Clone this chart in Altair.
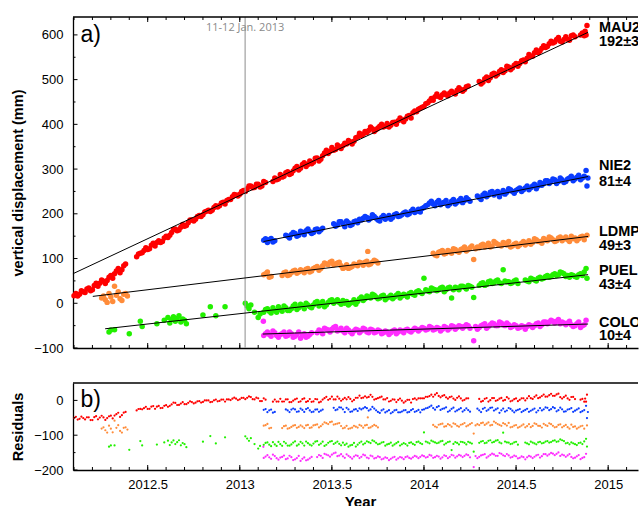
import altair as alt
import pandas as pd

# ---------------- data ----------------
stations = ["MAU2", "NIE2", "LDMP", "PUEL", "COLO"]
rates = ["192±3", "81±4", "49±3", "43±4", "10±4"]
colors = ["#ff0000", "#0a3cff", "#ff8c3a", "#22f000", "#ff2cff"]

# --- daily solutions, first half of the epochs ---
mau2_t = [2012.10, 2012.12, 2012.14, 2012.16, 2012.18, 2012.20, 2012.22, 2012.24, 2012.26, 2012.28,
          2012.30, 2012.32, 2012.34, 2012.36, 2012.38,
          2012.44, 2012.46, 2012.48, 2012.50, 2012.52, 2012.54, 2012.56, 2012.58, 2012.60, 2012.62,
          2012.64, 2012.66, 2012.68, 2012.70, 2012.72, 2012.74, 2012.76, 2012.78, 2012.80, 2012.82,
          2012.84, 2012.86, 2012.88, 2012.90, 2012.92, 2012.94, 2012.96, 2012.98, 2013.00, 2013.02,
          2013.04, 2013.06, 2013.08, 2013.10, 2013.12, 2013.14,
          2013.18, 2013.20, 2013.22, 2013.24, 2013.26, 2013.28, 2013.30, 2013.32, 2013.34, 2013.36,
          2013.38, 2013.40, 2013.42, 2013.44, 2013.46, 2013.48, 2013.50, 2013.52, 2013.54, 2013.56,
          2013.58, 2013.60, 2013.62, 2013.64, 2013.66, 2013.68, 2013.70, 2013.72, 2013.74, 2013.76,
          2013.78, 2013.80, 2013.82, 2013.84, 2013.86, 2013.88, 2013.90, 2013.92, 2013.94, 2013.96,
          2013.98, 2014.00, 2014.02, 2014.04, 2014.06, 2014.08, 2014.10, 2014.12, 2014.14, 2014.16,
          2014.18, 2014.20, 2014.22, 2014.24,
          2014.30, 2014.32, 2014.34, 2014.36, 2014.38, 2014.40, 2014.42, 2014.44, 2014.46, 2014.48,
          2014.50, 2014.52, 2014.54, 2014.56, 2014.58, 2014.60, 2014.62, 2014.64, 2014.66, 2014.68,
          2014.70, 2014.72, 2014.74, 2014.76, 2014.78, 2014.80, 2014.82,
          2014.86, 2014.87, 2014.88, 2014.885]
mau2_v = [17, 16, 28, 24, 34, 30, 45, 45, 49, 51,
          62, 66, 78, 75, 88,
          104, 112, 118, 120, 130, 128, 140, 138, 150, 152,
          165, 162, 170, 172, 180, 186, 188, 196, 198, 206,
          205, 214, 215, 224, 222, 232, 238, 242, 244, 252,
          256, 262, 259, 266, 262, 270,
          272, 276, 288, 284, 294, 290, 302, 298, 310, 306,
          318, 315, 325, 322, 336, 335, 348, 344, 350, 352,
          356, 361, 362, 372, 375, 384, 386, 390, 388, 396,
          394, 402, 398, 405, 408, 410, 412, 420, 426, 428,
          436, 440, 448, 458, 462, 462, 466, 466, 470, 470,
          476, 478, 478, 486,
          496, 494, 506, 504, 514, 512, 522, 520, 528, 526,
          536, 536, 544, 548, 552, 560, 560, 570, 572, 580,
          582, 590, 586, 590, 590, 598, 596,
          604, 598, 600, 621]

nie2_t = [2013.13, 2013.15, 2013.17, 2013.19,
          2013.25, 2013.27, 2013.29, 2013.31, 2013.33, 2013.35, 2013.37, 2013.39, 2013.41, 2013.43, 2013.45,
          2013.51, 2013.53, 2013.55, 2013.57, 2013.59, 2013.61, 2013.63, 2013.65, 2013.67, 2013.69,
          2013.71, 2013.73, 2013.75, 2013.77, 2013.79, 2013.81, 2013.83, 2013.85, 2013.87, 2013.89,
          2013.91, 2013.93, 2013.95, 2013.97, 2013.99, 2014.01, 2014.03, 2014.05, 2014.07, 2014.09,
          2014.11, 2014.13, 2014.15, 2014.17, 2014.19, 2014.21, 2014.23, 2014.25,
          2014.29, 2014.31, 2014.33, 2014.35, 2014.37, 2014.39, 2014.41, 2014.43, 2014.45, 2014.47,
          2014.49, 2014.51, 2014.53, 2014.55, 2014.57, 2014.59, 2014.61, 2014.63, 2014.65, 2014.67,
          2014.69, 2014.71, 2014.73, 2014.75, 2014.77, 2014.79, 2014.81, 2014.83, 2014.85, 2014.87,
          2014.88, 2014.885, 2014.89]
nie2_v = [141, 136, 145, 140,
          152, 146, 158, 150, 161, 153, 166, 156, 165, 160, 168,
          178, 175, 182, 171, 180, 176, 184, 188, 190, 192,
          190, 194, 186, 192, 188, 196, 192, 200, 195, 202,
          198, 206, 203, 210, 212, 218, 224, 222, 226, 220,
          226, 218, 228, 222, 230, 225, 236, 228,
          240, 232, 246, 242, 250, 246, 238, 252, 248, 254,
          246, 255, 250, 258, 254, 262, 256, 270, 268, 274,
          272, 276, 272, 276, 272, 280, 274, 282, 276, 284,
          297, 262, 280]

ldmp_t = [2012.25, 2012.27, 2012.29, 2012.31, 2012.33, 2012.35, 2012.37, 2012.39, 2012.32,
          2013.13, 2013.15, 2013.17,
          2013.23, 2013.25, 2013.27, 2013.29, 2013.31, 2013.33, 2013.35, 2013.37, 2013.39, 2013.41,
          2013.43, 2013.45, 2013.47, 2013.49, 2013.51, 2013.53, 2013.55, 2013.57, 2013.59, 2013.61,
          2013.63, 2013.65, 2013.67, 2013.69, 2013.71, 2013.73, 2013.75, 2013.695,
          2014.05, 2014.07, 2014.09, 2014.11, 2014.13, 2014.15, 2014.17, 2014.19, 2014.21, 2014.23,
          2014.25, 2014.27, 2014.29, 2014.31, 2014.33, 2014.35, 2014.37, 2014.39, 2014.41, 2014.43,
          2014.45, 2014.47, 2014.49, 2014.51, 2014.53, 2014.55, 2014.57, 2014.59, 2014.61, 2014.63,
          2014.65, 2014.67, 2014.69, 2014.71, 2014.73, 2014.75, 2014.77, 2014.79, 2014.81, 2014.83,
          2014.85, 2014.87, 2014.28, 2014.885]
ldmp_v = [12, 8, 22, 4, 18, 10, 20, 16, 38,
          64, 70, 60,
          62, 70, 64, 72, 67, 75, 68, 78, 72, 80,
          74, 84, 88, 92, 86, 90, 84, 80, 78, 82,
          86, 92, 85, 94, 88, 96, 90, 116,
          112, 106, 116, 110, 118, 112, 120, 114, 122, 117,
          124, 98, 126, 130, 126, 134, 128, 135, 130, 136,
          130, 126, 132, 127, 134, 130, 140, 136, 142, 138,
          145, 140, 146, 138, 146, 140, 148, 138, 144, 140,
          148, 142, 122, 152]

puel_t = [2012.29, 2012.30, 2012.32, 2012.40, 2012.46, 2012.47, 2012.55, 2012.59, 2012.61, 2012.62,
          2012.63, 2012.64, 2012.65, 2012.66, 2012.67, 2012.68, 2012.69, 2012.70, 2012.71, 2012.80,
          2012.84, 2012.87, 2012.92, 2013.03, 2013.04, 2013.05, 2013.06, 2013.08, 2013.10, 2013.11,
          2013.13, 2013.15, 2013.17, 2013.19, 2013.21, 2013.23, 2013.25, 2013.27, 2013.29, 2013.31,
          2013.33, 2013.35, 2013.37, 2013.39, 2013.41, 2013.43, 2013.45, 2013.47, 2013.49, 2013.51,
          2013.53, 2013.55, 2013.57, 2013.59, 2013.61, 2013.63, 2013.65, 2013.67, 2013.69, 2013.71,
          2013.73, 2013.75, 2013.77, 2013.79, 2013.81, 2013.83, 2013.85, 2013.87, 2013.89, 2013.91,
          2013.93, 2013.95, 2013.97, 2013.99, 2014.01, 2014.03, 2014.05, 2014.07, 2014.09, 2014.11,
          2014.13, 2014.15, 2014.17, 2014.19, 2014.21, 2014.23, 2014.25, 2014.27, 2014.00, 2014.16,
          2014.31, 2014.33, 2014.35, 2014.37, 2014.39, 2014.41, 2014.43, 2014.45, 2014.47, 2014.49,
          2014.51, 2014.44,
          2014.55, 2014.57, 2014.59, 2014.61, 2014.63, 2014.65, 2014.67, 2014.69, 2014.71, 2014.73,
          2014.75, 2014.77, 2014.79, 2014.81, 2014.83, 2014.85, 2014.87, 2014.885, 2014.88]
puel_v = [-64, -60, -59, -68, -40, -52, -46, -38, -32, -44,
          -36, -30, -40, -34, -28, -42, -35, -38, -46, -26,
          -8, -28, -8, 0, -6, -12, -4, -20, -32, -24,
          -20, -12, -22, -16, -8, -18, -10, -16, -6, -14,
          -2, -12, -4, -10, 2, -6, 4, -4, 6, 0,
          8, -2, 0, -4, 2, -2, 10, 6, 16, 12,
          18, 10, 16, 8, 14, 10, 18, 12, 20, 14,
          24, 18, 28, 22, 30, 26, 32, 28, 34, 26,
          34, 12, 36, 30, 38, 32, 38, 13, 56, 30,
          44, 40, 48, 44, 50, 46, 75, 48, 44, 50,
          44, 50,
          52, 48, 54, 50, 58, 56, 62, 60, 66, 64,
          68, 60, 58, 62, 58, 66, 70, 56, 78]

colo_t = [2013.13, 2013.15, 2013.17, 2013.19, 2013.21, 2013.23, 2013.25, 2013.27, 2013.29, 2013.31,
          2013.33, 2013.35, 2013.37, 2013.39, 2013.128,
          2013.43, 2013.45, 2013.47, 2013.49, 2013.51, 2013.53, 2013.55, 2013.57, 2013.59, 2013.61,
          2013.63, 2013.65, 2013.67, 2013.69, 2013.71, 2013.73, 2013.75, 2013.77, 2013.79, 2013.81,
          2013.83, 2013.85, 2013.87, 2013.89, 2013.91, 2013.93, 2013.95, 2013.97, 2013.99, 2014.01,
          2014.03, 2014.05, 2014.07, 2014.09, 2014.11, 2014.13, 2014.15, 2014.17, 2014.19, 2014.21,
          2014.23, 2014.25, 2014.27,
          2014.29, 2014.31, 2014.33, 2014.35, 2014.37, 2014.39, 2014.41, 2014.43, 2014.45, 2014.47,
          2014.49, 2014.51, 2014.53, 2014.55, 2014.57, 2014.59, 2014.61, 2014.63, 2014.65, 2014.67,
          2014.69, 2014.71, 2014.73, 2014.75, 2014.77, 2014.79, 2014.81, 2014.83, 2014.85, 2014.87,
          2014.88]
colo_v = [-72, -64, -74, -66, -76, -68, -74, -64, -76, -70,
          -78, -68, -74, -66, -40,
          -60, -68, -58, -64, -54, -62, -56, -66, -60, -68,
          -58, -66, -56, -64, -58, -66, -60, -68, -62, -70,
          -62, -68, -60, -66, -58, -64, -56, -62, -54, -60,
          -52, -60, -54, -62, -52, -60, -50, -58, -50, -56,
          -48, -56, -84,
          -58, -50, -46, -52, -44, -50, -42, -48, -44, -54,
          -48, -56, -50, -58, -48, -54, -46, -52, -42, -46,
          -38, -44, -36, -42, -48, -40, -52, -46, -54, -48,
          -38]

# --- daily solutions, second half of the epochs ---
mau2_t2 = [2012.11, 2012.13, 2012.15, 2012.17, 2012.19, 2012.21, 2012.23, 2012.25, 2012.27, 2012.29,
           2012.31, 2012.33, 2012.35, 2012.37,
           2012.45, 2012.47, 2012.49, 2012.51, 2012.53, 2012.55, 2012.57, 2012.59, 2012.61, 2012.63,
           2012.65, 2012.67, 2012.69, 2012.71, 2012.73, 2012.75, 2012.77, 2012.79, 2012.81, 2012.83,
           2012.85, 2012.87, 2012.89, 2012.91, 2012.93, 2012.95, 2012.97, 2012.99,
           2013.01, 2013.03, 2013.05, 2013.07, 2013.09, 2013.11, 2013.13,
           2013.19, 2013.21, 2013.23, 2013.25, 2013.27, 2013.29, 2013.31, 2013.33, 2013.35, 2013.37,
           2013.39, 2013.41, 2013.43, 2013.45, 2013.47, 2013.49, 2013.51, 2013.53, 2013.55, 2013.57,
           2013.59, 2013.61, 2013.63, 2013.65, 2013.67, 2013.69, 2013.71, 2013.73, 2013.75, 2013.77,
           2013.79, 2013.81, 2013.83, 2013.85, 2013.87, 2013.89, 2013.91, 2013.93, 2013.95, 2013.97,
           2013.99, 2014.01, 2014.03, 2014.05, 2014.07, 2014.09, 2014.11, 2014.13, 2014.15, 2014.17,
           2014.19, 2014.21, 2014.23,
           2014.31, 2014.33, 2014.35, 2014.37, 2014.39, 2014.41, 2014.43, 2014.45, 2014.47, 2014.49,
           2014.51, 2014.53, 2014.55, 2014.57, 2014.59, 2014.61, 2014.63, 2014.65, 2014.67, 2014.69,
           2014.71, 2014.73, 2014.75, 2014.77, 2014.79, 2014.81,
           2014.85, 2014.875]
mau2_v2 = [22, 20, 26, 32, 28, 40, 38, 52, 44, 58,
           56, 72, 68, 84,
           110, 113, 124, 122, 134, 136, 136, 146, 147, 158,
           166, 164, 176, 174, 186, 184, 194, 194, 204, 208,
           208, 218, 218, 226, 230, 232, 243, 240,
           250, 250, 262, 258, 266, 260, 272,
           280, 278, 282, 292, 288, 296, 306, 302, 314, 310,
           312, 324, 318, 330, 342, 340, 342, 354, 346, 358,
           364, 356, 370, 380, 378, 382, 394, 384, 392, 400,
           396, 394, 404, 400, 414, 406, 418, 414, 430, 434,
           438, 446, 452, 454, 468, 460, 470, 464, 474, 468,
           482, 474, 484,
           490, 502, 498, 512, 508, 518, 516, 530, 522, 532,
           530, 542, 540, 556, 552, 566, 564, 576, 574, 586,
           584, 594, 584, 596, 588, 600,
           600, 608]

nie2_t2 = [2013.14, 2013.16, 2013.18,
           2013.26, 2013.28, 2013.30, 2013.32, 2013.34, 2013.36, 2013.38, 2013.40, 2013.42, 2013.44,
           2013.52, 2013.54, 2013.56, 2013.58, 2013.60, 2013.62, 2013.64, 2013.66, 2013.68, 2013.70,
           2013.72, 2013.74, 2013.76, 2013.78, 2013.80, 2013.82, 2013.84, 2013.86, 2013.88, 2013.90,
           2013.92, 2013.94, 2013.96, 2013.98,
           2014.00, 2014.02, 2014.04, 2014.06, 2014.08, 2014.10, 2014.12, 2014.14, 2014.16, 2014.18,
           2014.20, 2014.22, 2014.24,
           2014.30, 2014.32, 2014.34, 2014.36, 2014.38, 2014.40, 2014.42, 2014.44, 2014.46, 2014.48,
           2014.50, 2014.52, 2014.54, 2014.56, 2014.58, 2014.60, 2014.62, 2014.64, 2014.66, 2014.68,
           2014.70, 2014.72, 2014.74, 2014.76, 2014.78, 2014.80, 2014.82, 2014.84, 2014.86]
nie2_v2 = [144, 142, 137,
           150, 154, 156, 152, 158, 162, 160, 158, 166, 164,
           172, 182, 178, 184, 174, 182, 180, 186, 194, 186,
           198, 190, 184, 196, 192, 188, 198, 194, 198, 204,
           200, 210, 206, 204,
           214, 220, 228, 218, 230, 224, 230, 222, 232, 226,
           234, 230, 232,
           236, 242, 238, 248, 242, 250, 246, 244, 256, 250,
           252, 258, 254, 262, 258, 266, 262, 264, 274, 268,
           278, 268, 280, 270, 278, 284, 278, 286, 280]

ldmp_t2 = [2012.26, 2012.28, 2012.30, 2012.34, 2012.36, 2012.38,
           2013.14, 2013.16,
           2013.24, 2013.26, 2013.28, 2013.30, 2013.32, 2013.34, 2013.36, 2013.38, 2013.40, 2013.42,
           2013.44, 2013.46, 2013.48, 2013.50, 2013.52, 2013.54, 2013.56, 2013.58, 2013.60, 2013.62,
           2013.64, 2013.66, 2013.68, 2013.70, 2013.72, 2013.74,
           2014.06, 2014.08, 2014.10, 2014.12, 2014.14, 2014.16, 2014.18, 2014.20, 2014.22, 2014.24,
           2014.26, 2014.30, 2014.32, 2014.34, 2014.36, 2014.38, 2014.40, 2014.42, 2014.44, 2014.46,
           2014.48, 2014.50, 2014.52, 2014.54, 2014.56, 2014.58, 2014.60, 2014.62, 2014.64, 2014.66,
           2014.68, 2014.70, 2014.72, 2014.74, 2014.76, 2014.78, 2014.80, 2014.82, 2014.84, 2014.86]
ldmp_v2 = [16, 2, 14, 26, 6, 22,
           66, 58,
           68, 62, 68, 74, 70, 72, 76, 70, 78, 82,
           78, 90, 86, 94, 88, 92, 78, 86, 80, 88,
           84, 90, 92, 86, 92, 94,
           108, 114, 118, 112, 116, 122, 116, 120, 126, 120,
           128, 124, 132, 130, 126, 138, 132, 128, 134, 138,
           128, 134, 130, 138, 134, 132, 144, 138, 134, 142,
           148, 142, 140, 148, 144, 142, 150, 146, 144, 150]

puel_t2 = [2013.14, 2013.16, 2013.18, 2013.20, 2013.22, 2013.24, 2013.26, 2013.28, 2013.30, 2013.32,
           2013.34, 2013.36, 2013.38, 2013.40, 2013.42, 2013.44, 2013.46, 2013.48, 2013.50, 2013.52,
           2013.54, 2013.56, 2013.58, 2013.60, 2013.62, 2013.64, 2013.66, 2013.68, 2013.70, 2013.72,
           2013.74, 2013.76, 2013.78, 2013.80, 2013.82, 2013.84, 2013.86, 2013.88, 2013.90, 2013.92,
           2013.94, 2013.96, 2013.98,
           2014.02, 2014.04, 2014.06, 2014.08, 2014.10, 2014.12, 2014.14, 2014.18, 2014.20, 2014.22,
           2014.24, 2014.26,
           2014.30, 2014.32, 2014.34, 2014.36, 2014.38, 2014.40, 2014.42, 2014.46, 2014.48, 2014.50,
           2014.56, 2014.58, 2014.60, 2014.62, 2014.64, 2014.66, 2014.68, 2014.70, 2014.72, 2014.74,
           2014.76, 2014.78, 2014.80, 2014.82, 2014.84, 2014.86]
puel_v2 = [-14, -18, -10, -20, -14, -6, -16, -12, -2, -10,
           -6, 0, -8, -4, 4, -2, -8, 2, 8, 4,
           2, 6, 4, 0, 8, 4, 14, 10, 14, 20,
           14, 12, 18, 12, 18, 14, 22, 16, 18, 22,
           20, 26, 24,
           28, 34, 30, 30, 36, 30, 36, 34, 38, 36,
           40, 36,
           40, 46, 42, 50, 46, 52, 44, 48, 46, 52,
           50, 56, 52, 56, 54, 60, 58, 64, 62, 70,
           66, 62, 64, 60, 64, 62]

colo_t2 = [2013.14, 2013.16, 2013.18, 2013.20, 2013.22, 2013.24, 2013.26, 2013.28, 2013.30, 2013.32,
           2013.34, 2013.36, 2013.38,
           2013.42, 2013.44, 2013.46, 2013.48, 2013.50, 2013.52, 2013.54, 2013.56, 2013.58, 2013.60,
           2013.62, 2013.64, 2013.66, 2013.68, 2013.70, 2013.72, 2013.74, 2013.76, 2013.78, 2013.80,
           2013.82, 2013.84, 2013.86, 2013.88, 2013.90, 2013.92, 2013.94, 2013.96, 2013.98, 2014.00,
           2014.02, 2014.04, 2014.06, 2014.08, 2014.10, 2014.12, 2014.14, 2014.16, 2014.18, 2014.20,
           2014.22, 2014.24,
           2014.28, 2014.30, 2014.32, 2014.34, 2014.36, 2014.38, 2014.40, 2014.42, 2014.44, 2014.46,
           2014.48, 2014.50, 2014.52, 2014.54, 2014.56, 2014.58, 2014.60, 2014.62, 2014.64, 2014.66,
           2014.68, 2014.70, 2014.72, 2014.74, 2014.76, 2014.78, 2014.80, 2014.82, 2014.84, 2014.86]
colo_v2 = [-68, -70, -62, -72, -70, -64, -72, -68, -74, -64,
           -72, -76, -70,
           -66, -62, -56, -60, -58, -52, -60, -62, -56, -64,
           -62, -60, -62, -58, -66, -60, -64, -62, -66, -64,
           -66, -60, -64, -62, -60, -62, -60, -58, -58, -56,
           -58, -54, -58, -56, -58, -54, -56, -52, -54, -52,
           -52, -50,
           -52, -54, -48, -56, -48, -46, -50, -44, -50, -48,
           -52, -50, -54, -52, -52, -50, -50, -44, -48, -42,
           -42, -40, -40, -46, -44, -44, -48, -50, -42, -50]

series_t = [mau2_t + mau2_t2, nie2_t + nie2_t2, ldmp_t + ldmp_t2, puel_t + puel_t2, colo_t + colo_t2]
series_v = [mau2_v + mau2_v2, nie2_v + nie2_v2, ldmp_v + ldmp_v2, puel_v + puel_v2, colo_v + colo_v2]

# linear trends (start / end of each fitted line)
fit_t0 = [2012.094, 2013.129, 2012.202, 2012.269, 2013.125]
fit_v0 = [66, 138, 15.4, -57, -68.8]
fit_t1 = [2014.891, 2014.891, 2014.891, 2014.891, 2014.891]
fit_v1 = [605.8, 283.4, 149.4, 64, -46.4]
# vertical offset of each station in the residual panel
resid_offset = [0, -30, -75, -125, -162]

# station annotations
label_t = 2014.95
label_y_name = [615, 306, 159, 72, -44]
label_y_rate = [583, 272, 127, 41, -74]

event_t = 2013.029
event_label = "11-12 Jan. 2013"
event_label_y = 616

x_major = [2012.5, 2013.0, 2013.5, 2014.0, 2014.5, 2015.0]
x_minor = [round(2012.1 + 0.1 * i, 1) for i in range(31)]
y1_major = [-100, 0, 100, 200, 300, 400, 500, 600]
y1_minor = [-50, 50, 150, 250, 350, 450, 550]
y2_major = [-200, -100, 0]
y2_minor = [-150, -50]

# ---------------- tables ----------------
rows = []
for i, name in enumerate(stations):
    for ts, vs in [(series_t[i], series_v[i])]:
        assert len(ts) == len(vs), (name, len(ts), len(vs))
    slope = (fit_v1[i] - fit_v0[i]) / (fit_t1[i] - fit_t0[i])
    for t, v in zip(series_t[i], series_v[i]):
        fit = fit_v0[i] + slope * (t - fit_t0[i])
        rows.append({"station": name, "t": t, "v": v, "res": v - fit + resid_offset[i]})
for name, a, b in [("MAU2 2", mau2_t2, mau2_v2), ("NIE2 2", nie2_t2, nie2_v2), ("LDMP 2", ldmp_t2, ldmp_v2),
                   ("PUEL 2", puel_t2, puel_v2), ("COLO 2", colo_t2, colo_v2)]:
    assert len(a) == len(b), (name, len(a), len(b))
df = pd.DataFrame(rows)

fit_rows = []
for i, name in enumerate(stations):
    fit_rows.append({"station": name, "t": fit_t0[i], "v": fit_v0[i]})
    fit_rows.append({"station": name, "t": fit_t1[i], "v": fit_v1[i]})
fit_df = pd.DataFrame(fit_rows)

lab_df = pd.DataFrame({
    "t": [label_t] * len(stations) * 2,
    "y": label_y_name + label_y_rate,
    "text": stations + rates,
})

# ---------------- chart ----------------
FONT = "Liberation Sans"
W, H1, H2 = 565, 331, 87
X0, X1 = 2012.0945, 2015.162
xs = alt.Scale(domain=[X0, X1], nice=False, zero=False)
ys1 = alt.Scale(domain=[-100, 640], nice=False, zero=False)
ys2 = alt.Scale(domain=[-200, 50], nice=False, zero=False)
color_scale = alt.Scale(domain=stations, range=colors)
one = pd.DataFrame({"k": [0]})


def deco_layers(ys, h, ymaj, ymin, top_ticks=True):
    """frame line on top plus inward tick marks"""
    layers = [alt.Chart(one).mark_rule(color="black", strokeWidth=1.3).encode(
        x=alt.value(0), x2=alt.value(W), y=alt.value(0))]
    for vals, ln in [(x_minor, 3), (x_major, 5)]:
        d = pd.DataFrame({"t": vals})
        layers.append(alt.Chart(d).mark_rule(color="black", strokeWidth=1).encode(
            x=alt.X("t:Q", scale=xs), y=alt.value(h), y2=alt.value(h - ln)))
        if top_ticks:
            layers.append(alt.Chart(d).mark_rule(color="black", strokeWidth=1).encode(
                x=alt.X("t:Q", scale=xs), y=alt.value(0), y2=alt.value(ln)))
    for vals, ln in [(ymin, 2.5), (ymaj, 4.5)]:
        d = pd.DataFrame({"v": vals})
        layers.append(alt.Chart(d).mark_rule(color="black", strokeWidth=1).encode(
            y=alt.Y("v:Q", scale=ys), x=alt.value(0), x2=alt.value(ln)))
    return layers


y_axis_common = dict(ticks=False, domain=True, domainColor="black", domainWidth=1.3, grid=False,
                     labelFont=FONT, labelFontSize=13, labelColor="black", labelPadding=10,
                     titleFont=FONT, titleFontSize=14.5, titleFontWeight="bold", titleColor="black",
                     titlePadding=8)

# ---- panel a ----
pts_top = alt.Chart(df).mark_circle(size=30, opacity=1).encode(
    x=alt.X("t:Q", scale=xs, axis=alt.Axis(labels=False, ticks=False, domain=True, domainColor="black",
                                            domainWidth=1.3, title=None, grid=False)),
    y=alt.Y("v:Q", scale=ys1, axis=alt.Axis(values=y1_major, title="vertical displacement (mm)",
                                             **y_axis_common)),
    color=alt.Color("station:N", scale=color_scale, legend=None),
)

event_rule = alt.Chart(pd.DataFrame({"t": [event_t]})).mark_rule(color="#a0a0a0", strokeWidth=1.2).encode(
    x=alt.X("t:Q", scale=xs))

fit_lines = alt.Chart(fit_df).mark_line(color="black", strokeWidth=1).encode(
    x=alt.X("t:Q", scale=xs), y=alt.Y("v:Q", scale=ys1), detail="station:N")

labels = alt.Chart(lab_df).mark_text(align="left", baseline="middle", font=FONT, fontSize=14.5,
                                      fontWeight="bold", color="black", clip=True).encode(
    x=alt.X("t:Q", scale=xs), y=alt.Y("y:Q", scale=ys1), text="text:N")

event_text = alt.Chart(pd.DataFrame({"t": [event_t], "y": [event_label_y], "text": [event_label]})).mark_text(
    align="center", baseline="middle", font="Open Sans", fontSize=11, color="#8a8a8a").encode(
    x=alt.X("t:Q", scale=xs), y=alt.Y("y:Q", scale=ys1), text="text:N")

panel_a = alt.Chart(pd.DataFrame({"t": [2012.135], "y": [600], "text": ["a)"]})).mark_text(
    align="left", baseline="middle", font=FONT, fontSize=23, color="black").encode(
    x=alt.X("t:Q", scale=xs), y=alt.Y("y:Q", scale=ys1), text="text:N")

top = alt.layer(pts_top, event_rule, fit_lines, labels, event_text, panel_a,
                *deco_layers(ys1, H1, y1_major, y1_minor, True)).properties(width=W, height=H1)

# ---- panel b ----
pts_bot = alt.Chart(df).mark_circle(size=5, opacity=1).encode(
    x=alt.X("t:Q", scale=xs, axis=alt.Axis(values=x_major, format="~g", ticks=False,
                                            domain=True, domainColor="black", domainWidth=1.3, grid=False,
                                            labelFont=FONT, labelFontSize=13, labelColor="black",
                                            labelPadding=8, labelFlush=False, title="Year", titleFont=FONT,
                                            titleFontSize=15, titleFontWeight="bold", titleColor="black",
                                            titlePadding=3, titleX=287)),
    y=alt.Y("res:Q", scale=ys2, axis=alt.Axis(values=y2_major, title="Residuals", **y_axis_common)),
    color=alt.Color("station:N", scale=color_scale, legend=None),
)

panel_b = alt.Chart(pd.DataFrame({"t": [2012.135], "y": [0], "text": ["b)"]})).mark_text(
    align="left", baseline="middle", font=FONT, fontSize=23, color="black").encode(
    x=alt.X("t:Q", scale=xs), y=alt.Y("y:Q", scale=ys2), text="text:N")

bottom = alt.layer(pts_bot, panel_b,
                   *deco_layers(ys2, H2, y2_major, y2_minor, False)).properties(width=W, height=H2)

chart = alt.vconcat(top, bottom, spacing=27).properties(
    padding={"left": 10, "top": 16, "right": 0, "bottom": 0},
    background="white",
).configure_view(stroke=None)

chart.save("out.html", embed_options={"renderer": "svg", "actions": False})
